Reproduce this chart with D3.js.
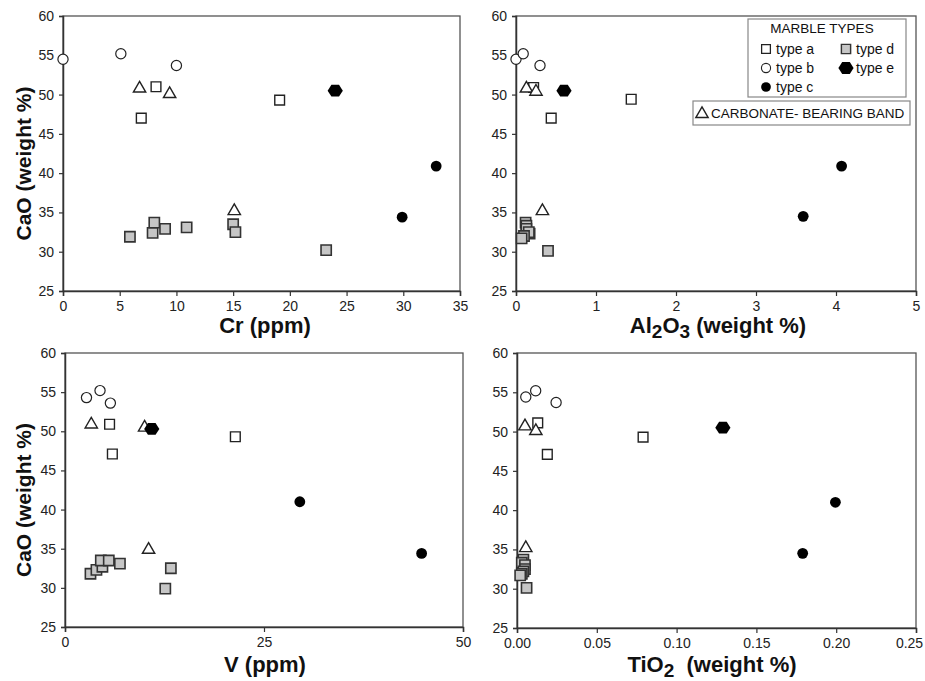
<!DOCTYPE html>
<html>
<head>
<meta charset="utf-8">
<script src="https://cdn.jsdelivr.net/npm/d3@7"></script>
<style>
  body { margin: 0; background: #fff; }
  svg { font-family: "Liberation Sans", Arial, sans-serif; }
</style>
</head>
<body>
<div id="chart"></div>
<script>
const width = 925;
const height = 681;

// marble types: a open square, b open circle, c black dot, d grey square, e black hexagon, t = carbonate-bearing band
const typeNames = ["type a", "type b", "type c", "type d", "type e"];
const bandName = "CARBONATE- BEARING  BAND";

// [type, x, CaO]
const crPoints = [
  ["d", 5.9, 31.9], ["d", 7.9, 32.4], ["d", 8.05, 33.7], ["d", 9.0, 32.9],
  ["d", 10.9, 33.1], ["d", 15.0, 33.5], ["d", 15.2, 32.5], ["d", 23.2, 30.2],
  ["a", 8.2, 51.0], ["a", 6.9, 47.0], ["a", 19.1, 49.3],
  ["b", 0, 54.5], ["b", 5.1, 55.2], ["b", 10.0, 53.7],
  ["c", 29.9, 34.4], ["c", 32.9, 40.9],
  ["e", 24.0, 50.5],
  ["t", 6.75, 50.9], ["t", 9.4, 50.2], ["t", 15.1, 35.3]
];

const alPoints = [
  ["d", 0.12, 33.7], ["d", 0.13, 33.3], ["d", 0.13, 32.9], ["d", 0.17, 32.3],
  ["d", 0.16, 32.5], ["d", 0.1, 32.0], ["d", 0.07, 31.7], ["d", 0.40, 30.1],
  ["a", 0.22, 50.9], ["a", 0.44, 47.0], ["a", 1.44, 49.4],
  ["b", 0.0, 54.5], ["b", 0.09, 55.2], ["b", 0.30, 53.7],
  ["c", 3.59, 34.5], ["c", 4.07, 40.9],
  ["e", 0.60, 50.5],
  ["t", 0.13, 50.9], ["t", 0.25, 50.5], ["t", 0.33, 35.3]
];

const vPoints = [
  ["d", 3.2, 31.8], ["d", 3.95, 32.3], ["d", 4.7, 32.7], ["d", 4.5, 33.5],
  ["d", 5.5, 33.5], ["d", 6.9, 33.1], ["d", 13.3, 32.5], ["d", 12.6, 29.9],
  ["a", 5.6, 50.9], ["a", 5.95, 47.1], ["a", 21.4, 49.3],
  ["b", 2.7, 54.3], ["b", 4.4, 55.2], ["b", 5.7, 53.6],
  ["c", 29.5, 41.0], ["c", 44.8, 34.4],
  ["e", 10.9, 50.3],
  ["t", 3.3, 51.0], ["t", 10.0, 50.6], ["t", 10.5, 35.0]
];

const tiPoints = [
  ["d", 0.004, 33.7], ["d", 0.003, 33.3], ["d", 0.005, 33.0], ["d", 0.005, 32.5],
  ["d", 0.004, 32.2], ["d", 0.003, 31.9], ["d", 0.002, 31.7], ["d", 0.006, 30.1],
  ["a", 0.013, 51.1], ["a", 0.019, 47.1], ["a", 0.079, 49.3],
  ["b", 0.0055, 54.4], ["b", 0.0117, 55.2], ["b", 0.0245, 53.7],
  ["c", 0.179, 34.5], ["c", 0.1995, 41.0],
  ["e", 0.129, 50.5],
  ["t", 0.005, 50.8], ["t", 0.0118, 50.2], ["t", 0.0055, 35.3]
];

const caoTicks = [25, 30, 35, 40, 45, 50, 55, 60];
const crTicks = [0, 5, 10, 15, 20, 25, 30, 35];
const alTicks = [0, 1, 2, 3, 4, 5];
const vTicks = [0, 25, 50];
const tiTicks = [0, 0.05, 0.10, 0.15, 0.20, 0.25];

const panels = [
  {points: crPoints, xDomain: [0, 35], ticks: crTicks, fmt: d3.format("d"),
   left: 63, right: 460, top: 16, bottom: 291, yTitle: true,
   title: [["Cr (ppm)", false]], titleX: 265, titleY: 333},
  {points: alPoints, xDomain: [0, 5], ticks: alTicks, fmt: d3.format("d"),
   left: 516, right: 916, top: 16, bottom: 291, yTitle: false,
   title: [["Al", false], ["2", true], ["O", false], ["3", true], [" (weight %)", false]], titleX: 718, titleY: 333},
  {points: vPoints, xDomain: [0, 50], ticks: vTicks, fmt: d3.format("d"),
   left: 65, right: 463, top: 353, bottom: 627, yTitle: true,
   title: [["V (ppm)", false]], titleX: 265, titleY: 672},
  {points: tiPoints, xDomain: [0, 0.25], ticks: tiTicks, fmt: d3.format(".2f"),
   left: 517, right: 916, top: 353, bottom: 628, yTitle: false,
   title: [["TiO", false], ["2", true], ["\u00a0\u00a0(weight %)", false]], titleX: 712, titleY: 672}
];

const svg = d3.select("#chart")
    .append("svg")
    .attr("width", width)
    .attr("height", height)
    .attr("viewBox", [0, 0, width, height]);

const hexagon = r => {
  const pts = d3.range(6).map(i => {
    const a = i * Math.PI / 3;
    return [r * Math.cos(a), r * Math.sin(a) * 0.9];
  });
  return "M" + pts.join("L") + "Z";
};

function drawSymbol(g, type) {
  if (type === "a") {
    g.append("path").attr("d", d3.symbol(d3.symbolSquare, 95)())
      .attr("fill", "#fff").attr("stroke", "#222").attr("stroke-width", 1.4);
  } else if (type === "b") {
    g.append("circle").attr("r", 5.1)
      .attr("fill", "#fff").attr("stroke", "#222").attr("stroke-width", 1.2);
  } else if (type === "c") {
    g.append("circle").attr("r", 5.4).attr("fill", "#000");
  } else if (type === "d") {
    g.append("path").attr("d", d3.symbol(d3.symbolSquare, 105)())
      .attr("fill", "#c6c6c6").attr("stroke", "#333").attr("stroke-width", 1.6);
  } else if (type === "e") {
    g.append("path").attr("d", hexagon(7.6)).attr("fill", "#000");
  } else {
    g.append("path").attr("d", d3.symbol(d3.symbolTriangle, 66)())
      .attr("transform", "translate(0,1)")
      .attr("fill", "#fff").attr("stroke", "#222").attr("stroke-width", 1.4);
  }
}

const order = ["d", "a", "b", "t", "c", "e"];

panels.forEach(p => {
  const x = d3.scaleLinear().domain(p.xDomain).range([p.left, p.right]);
  const y = d3.scaleLinear().domain([25, 60]).range([p.bottom, p.top]);

  const g = svg.append("g");

  g.append("rect")
    .attr("x", p.left).attr("y", p.top)
    .attr("width", p.right - p.left).attr("height", p.bottom - p.top)
    .attr("fill", "none").attr("stroke", "#555").attr("stroke-width", 1.3);

  const yAxis = g.append("g")
    .attr("transform", `translate(${p.left},0)`)
    .call(d3.axisLeft(y).tickValues(caoTicks).tickSize(4).tickPadding(5).tickFormat(d3.format("d")));
  const xAxis = g.append("g")
    .attr("transform", `translate(0,${p.bottom})`)
    .call(d3.axisBottom(x).tickValues(p.ticks).tickSize(5).tickPadding(5).tickFormat(p.fmt));

  [yAxis, xAxis].forEach(a => {
    a.select(".domain").attr("stroke", "#333").attr("stroke-width", 1.5);
    a.selectAll(".tick line").attr("stroke", "#333").attr("stroke-width", 1.2);
    a.selectAll(".tick text").attr("fill", "#222")
      .style("font-size", "14px").style("font-family", "'Liberation Sans', Arial, sans-serif");
  });

  // keep the long last label inside the window
  xAxis.selectAll(".tick text")
    .filter(d => x(d) > width - 15 && p.fmt(d).length > 2)
    .attr("dx", -7);

  const pts = p.points.slice().sort((a, b) => order.indexOf(a[0]) - order.indexOf(b[0]));
  g.append("g").selectAll("g")
    .data(pts)
    .join("g")
    .attr("transform", d => `translate(${x(d[1])},${y(d[2])})`)
    .each(function(d) { drawSymbol(d3.select(this), d[0]); });

  if (p.yTitle) {
    g.append("text")
      .attr("transform", `translate(31,${(p.top + p.bottom) / 2 + 10}) rotate(-90)`)
      .attr("text-anchor", "middle")
      .attr("font-weight", "bold")
      .attr("font-size", 21)
      .attr("fill", "#111")
      .text("CaO (weight %)");
  }

  const t = g.append("text")
    .attr("x", p.titleX).attr("y", p.titleY)
    .attr("text-anchor", "middle")
    .attr("font-weight", "bold")
    .attr("font-size", 22)
    .attr("fill", "#111");
  let shifted = false;
  p.title.forEach(([s, sub]) => {
    const ts = t.append("tspan").text(s);
    if (sub) { ts.attr("font-size", 19).attr("dy", shifted ? 0 : 5); shifted = true; }
    else if (shifted) { ts.attr("dy", -5); shifted = false; }
  });
});

// legend
const leg = svg.append("g");
leg.append("rect")
  .attr("x", 748).attr("y", 19).attr("width", 158).attr("height", 78)
  .attr("fill", "#fff").attr("stroke", "#888").attr("stroke-width", 1.2);
leg.append("text")
  .attr("x", 822).attr("y", 33)
  .attr("text-anchor", "middle")
  .attr("font-size", 13.5).attr("fill", "#111")
  .text("MARBLE TYPES");

const legendPos = [[766, 49], [766, 68], [766, 87], [846, 49], [846, 68]];
typeNames.forEach((name, i) => {
  const code = "abcde"[i];
  const [lx, ly] = legendPos[i];
  const item = leg.append("g").attr("transform", `translate(${lx},${ly})`);
  const sym = item.append("g").attr("transform", code === "e" ? "scale(1)" : "scale(0.9)");
  drawSymbol(sym, code);
  item.append("text")
    .attr("x", 10).attr("y", 5)
    .attr("font-size", 14).attr("fill", "#111")
    .text(name);
});

leg.append("rect")
  .attr("x", 693).attr("y", 101).attr("width", 217).attr("height", 24)
  .attr("fill", "#fff").attr("stroke", "#888").attr("stroke-width", 1.2);
const band = leg.append("g").attr("transform", "translate(702,113)");
drawSymbol(band, "t");
band.append("text")
  .attr("x", 9).attr("y", 5)
  .attr("font-size", 13.5).attr("fill", "#111")
  .text(bandName);
</script>
</body>
</html>
